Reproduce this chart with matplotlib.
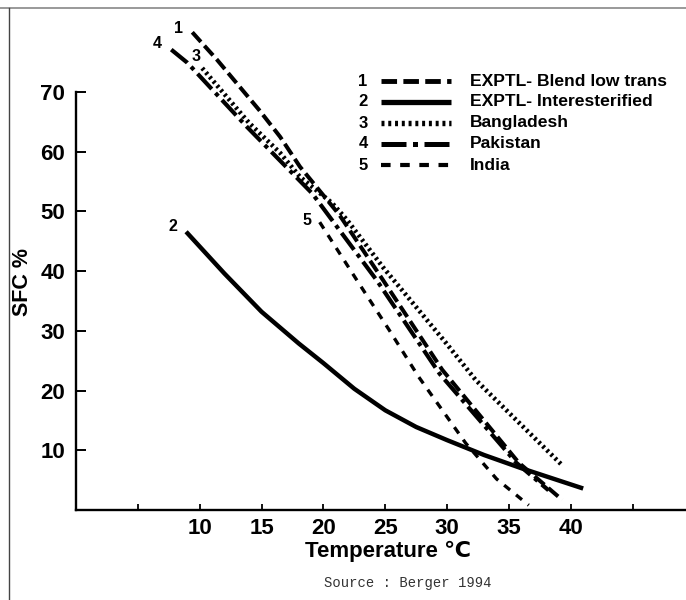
import matplotlib

matplotlib.use("Agg")
import matplotlib.pyplot as plt
from matplotlib.lines import Line2D

plt.rcParams["font.family"] = ["Liberation Sans", "DejaVu Sans"]

W, H = 686, 600

# solid fat content (%), by temperature (deg C)
BLEND_T = [9.4, 11.4, 14.8, 16.5, 18.1, 21.3, 24.5, 29.6, 35.8, 39.3]
BLEND_SFC = [80.0, 75.4, 67.0, 62.5, 57.5, 49.4, 39.5, 23.5, 7.9, 1.7]

INTER_T = [8.9, 12.0, 15.0, 18.0, 20.0, 22.5, 25.0, 27.5, 30.0, 33.0, 36.0,
           41.0]
INTER_SFC = [46.6, 39.6, 33.2, 27.9, 24.6, 20.3, 16.7, 13.9, 11.7, 9.2, 7.0,
             3.6]

BANGLA_T = [10.2, 14.0, 16.5, 18.1, 20.7, 21.9, 24.8, 29.9, 32.3, 39.3]
BANGLA_SFC = [74.0, 64.8, 59.8, 55.8, 51.4, 48.6, 40.7, 28.0, 21.8, 7.5]

PAK_T = [7.7, 9.0, 13.8, 19.1, 24.3, 29.4, 35.6, 38.2]
PAK_SFC = [77.1, 74.9, 64.2, 53.0, 38.5, 22.8, 7.9, 3.3]

INDIA_T = [19.7, 22.7, 25.3, 27.7, 31.5, 34.0, 36.6]
INDIA_SFC = [48.2, 38.5, 30.2, 22.3, 11.2, 5.2, 0.8]

LABELS = ["EXPTL- Blend low trans", "EXPTL- Interesterified", "Bangladesh",
          "Pakistan", "India"]
# where the curve numbers sit (data coords)
NUM_POS = [(8.3, 80.6), (7.8, 47.4), (9.7, 75.9), (6.6, 78.2), (18.7, 48.4)]

X_TICKS = [5, 10, 15, 20, 25, 30, 35, 40, 45]
X_TICKLABELS = ["", "10", "15", "20", "25", "30", "35", "40", ""]
Y_TICKS = [10, 20, 30, 40, 50, 60, 70]

# line styles: (linewidth, dashes)
STYLES = [
    (2.9, (3.2, 1.3)),
    (3.2, None),
    (3.3, (0.55, 0.7)),
    (3.0, (5.0, 1.3, 1.0, 1.3)),
    (2.4, (2.3, 2.3)),
]


def fx(px):
    return px / W


def fy(py):
    return 1 - py / H


fig = plt.figure(figsize=(W / 100, H / 100), dpi=100, facecolor="white")
ax = fig.add_axes([fx(76), fy(510), fx(686 - 76), (510 - 92) / H])
ax.set_xlim(0, (686 - 76) / 12.37)
ax.set_ylim(0, 70)
for s in ("top", "right"):
    ax.spines[s].set_visible(False)
for s in ("left", "bottom"):
    ax.spines[s].set_linewidth(1.7)

series = [(BLEND_T, BLEND_SFC), (INTER_T, INTER_SFC), (BANGLA_T, BANGLA_SFC),
          (PAK_T, PAK_SFC), (INDIA_T, INDIA_SFC)]
for (t, v), (lw, dash) in zip(series, STYLES):
    ln, = ax.plot(t, v, color="black", lw=lw, clip_on=False,
                  solid_capstyle="butt", dash_capstyle="butt",
                  solid_joinstyle="round")
    if dash:
        ln.set_dashes(dash)

for i, (x, y) in enumerate(NUM_POS):
    ax.text(x, y, str(i + 1), fontsize=11.5, fontweight="bold", ha="center",
            va="center", clip_on=False)

ax.set_xticks(X_TICKS)
ax.set_xticklabels(X_TICKLABELS)
ax.set_yticks(Y_TICKS)
ax.tick_params(axis="x", direction="in", length=4, width=1.3, pad=6,
               labelsize=16)
ax.tick_params(axis="y", direction="in", length=7, width=1.4, pad=8,
               labelsize=16)
for lab in ax.get_xticklabels() + ax.get_yticklabels():
    lab.set_fontweight("bold")

fig.text(fx(388), fy(551), "Temperature \u2103", fontsize=16,
         fontweight="bold", ha="center", va="center")
fig.text(fx(22), fy(282), "SFC %", fontsize=15.5, fontweight="bold",
         rotation=90, ha="center", va="center")
fig.text(fx(408), fy(583), "Source : Berger 1994", fontsize=10,
         family="Liberation Mono", color="#333333", ha="center", va="center")

# legend, drawn by hand: number, line sample, label
rows = [81, 102, 123, 144, 165]
for i, (py, lab) in enumerate(zip(rows, LABELS)):
    fig.text(fx(363), fy(py), str(i + 1), fontsize=12, fontweight="bold",
             ha="center", va="center")
    lw, dash = STYLES[i]
    ln = Line2D([fx(381), fx(451)], [fy(py), fy(py)], color="black",
                lw=lw + 0.6, transform=fig.transFigure,
                solid_capstyle="butt", dash_capstyle="butt")
    if dash:
        ln.set_dashes(dash)
    fig.add_artist(ln)
    fig.text(fx(470), fy(py), lab, fontsize=12.6, fontweight="bold",
             ha="left", va="center")

# scanned page frame
fig.add_artist(Line2D([0, 1], [fy(8), fy(8)], color="#888888", lw=1.2,
                      transform=fig.transFigure))
fig.add_artist(Line2D([fx(9), fx(9)], [fy(8), 0], color="#444444", lw=1.0,
                      transform=fig.transFigure))

fig.savefig("out.png", dpi=100, facecolor="white")
